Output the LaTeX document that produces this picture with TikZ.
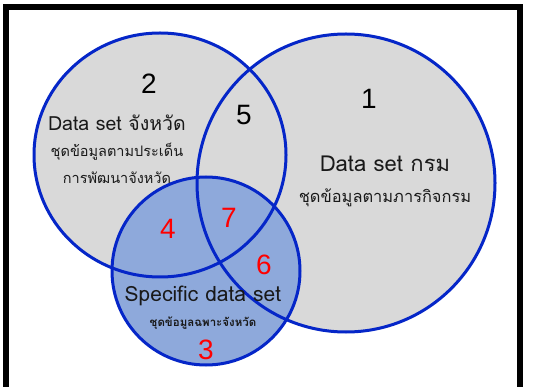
\documentclass[tikz,border=0pt]{standalone}
\usepackage{fontspec}
\setmainfont{Liberation Sans}
\newfontfamily\thaifont[Script=Thai]{Loma}
\definecolor{vblue}{RGB}{5,38,200}
\definecolor{vgray}{RGB}{217,217,217}
\definecolor{vlblue}{RGB}{142,169,219}
\begin{document}
\begin{tikzpicture}[x=1pt,y=-1pt,
  ring/.style={draw=vblue,line width=3pt},
  num/.style={inner sep=0pt,font=\fontsize{28}{30}\selectfont},
  rednum/.style={num,text=red},
  title/.style={inner sep=0pt,text=black!90,font=\thaifont\fontsize{19.5}{21}\selectfont},
  sub/.style={inner sep=0pt,text=black!90,font=\thaifont\fontsize{14.5}{16}\selectfont}]
\useasboundingbox (0,0) rectangle (538,387);
\clip (0,0) rectangle (538,387);
\fill[white] (0,0) rectangle (538,387);
\draw[line width=6pt] (6,400) -- (6,7) -- (520,7) -- (520,400);
% fills
\fill[vgray] (346,183) circle (149);
\fill[vgray] (160,155) ellipse [x radius=126, y radius=122];
\fill[vlblue] (206,271) circle (94);
% outlines
\draw[ring] (346,183) circle (149);
\draw[ring] (160,155) ellipse [x radius=126, y radius=122];
\draw[ring] (206,271) circle (94);
% labels
\node[num] (n2) at (149,84) {2};
\node[title] (t2) at (117,123) {Data set จังหวัด};
\node[sub] (s2a) at (117,152) {ชุดข้อมูลตามประเด็น};
\node[sub] (s2b) at (117,178) {การพัฒนาจังหวัด};
\node[num] (n1) at (369,99) {1};
\node[title,font=\thaifont\fontsize{22}{24}\selectfont] (t1) at (385,164) {Data set กรม};
\node[sub,font=\thaifont\fontsize{16.4}{18}\selectfont] (s1) at (385,198) {ชุดข้อมูลตามภารกิจกรม};
\node[num] (n5) at (244,115) {5};
\node[rednum] (n4) at (168,229) {4};
\node[rednum] (n7) at (229,218) {7};
\node[rednum] (n6) at (264,265) {6};
\node[title,font=\thaifont\fontsize{21}{23}\selectfont] (t3) at (203,296) {Specific data set};
\node[sub,font=\thaifont\bfseries\fontsize{11.5}{13}\selectfont] (s3) at (203,323) {ชุดข้อมูลฉพาะจังหวัด};
\node[rednum] (n3) at (206,350) {3};
\end{tikzpicture}
\end{document}
